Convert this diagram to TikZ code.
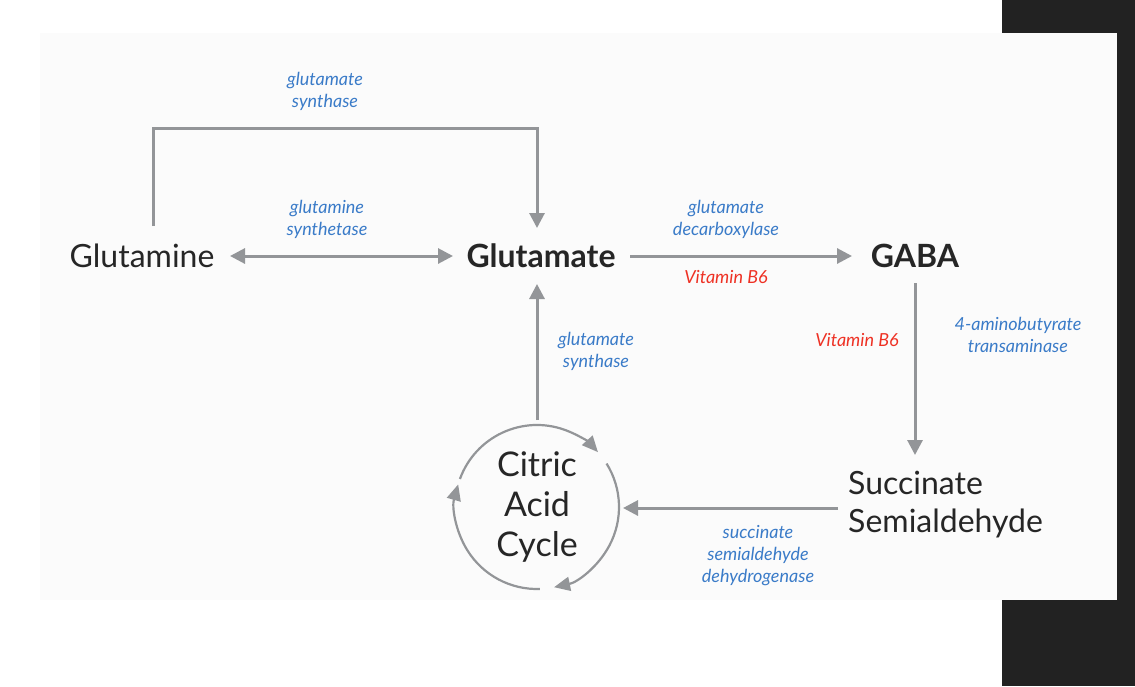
\documentclass[tikz,border=0pt]{standalone}
\usepackage{fontspec}
\setmainfont{Lato}
\usetikzlibrary{arrows.meta}
\definecolor{arrowgray}{HTML}{939598}
\definecolor{enzblue}{HTML}{3A7BC8}
\definecolor{vitred}{HTML}{EE3124}
\definecolor{frame}{HTML}{222222}
\definecolor{panel}{HTML}{FBFBFB}
\begin{document}
\begin{tikzpicture}[x=1pt,y=-1pt,
  conn/.style={draw=arrowgray,line width=3pt,-{Triangle[width=15pt,length=15pt]}},
  mol/.style={font=\fontsize{32}{38}\selectfont,text=black!85,align=center,inner sep=0pt},
  molb/.style={mol,font=\fontsize{32}{38}\selectfont\bfseries},
  enz/.style={font=\fontsize{18}{22}\selectfont\itshape,text=enzblue,align=center,inner sep=0pt},
  vit/.style={font=\fontsize{18}{22}\selectfont\itshape,text=vitred,inner sep=0pt}]
\useasboundingbox (0,0) rectangle (1135,686);
\fill[white] (0,0) rectangle (1135,686);
\fill[frame] (1002,0) rectangle (1135,33);
\fill[frame] (1117,33) rectangle (1135,600);
\fill[frame] (1002,600) rectangle (1135,686);
\fill[panel] (40,33) rectangle (1117,600);

\node[mol] (gln) at (142,256) {Glutamine};
\node[molb] (glu) at (541,256) {Glutamate};
\node[molb] (gaba) at (915,256) {GABA};
\node[mol,align=left,anchor=west] (ssa) at (848,505) {Succinate\\Semialdehyde};
\node[mol,font=\fontsize{34}{40}\selectfont,minimum size=164pt,circle] (cac) at (537,507) {Citric\\Acid\\Cycle};

\coordinate (t1) at (153,128);
\coordinate (t2) at (537,128);
\draw[conn] (153,226) -- (t1) -- (t2) -- (537,228);
\draw[conn,{Triangle[width=15pt,length=15pt]}-{Triangle[width=15pt,length=15pt]}] (230,256) -- (453,256);
\draw[conn] (630,256) -- (852,256);
\draw[conn] (915,283) -- (915,455);
\draw[conn] (838,508) -- (623,508);
\draw[conn] (537,420) -- (537,284);

% cycle arrows (angles measured in the flipped frame)
\def\r{82}
\draw[conn,line width=2.2pt,-{Triangle[width=14pt,length=16pt]}] (537,507) ++(-160:\r) arc[start angle=-160,end angle=-42,radius=\r];
\draw[conn,line width=2.2pt,-{Triangle[width=14pt,length=16pt]}] (537,507) ++(-32:\r) arc[start angle=-32,end angle=78,radius=\r];
\draw[conn,line width=2.2pt,-{Triangle[width=14pt,length=16pt]}] (537,507) ++(88:\r) arc[start angle=88,end angle=196,radius=\r];

\node[enz] (e1) at (325,91) {glutamate\\synthase};
\node[enz] (e2) at (327,219) {glutamine\\synthetase};
\node[enz] (e3) at (726,219) {glutamate\\decarboxylase};
\node[vit] (v1) at (726,277) {Vitamin B6};
\node[vit] (v2) at (857,340) {Vitamin B6};
\node[enz] (e4) at (1018,335) {4-aminobutyrate\\transaminase};
\node[enz] (e5) at (758,556) {succinate\\semialdehyde\\dehydrogenase};
\node[enz] (e6) at (596,351) {glutamate\\synthase};
\end{tikzpicture}
\end{document}
